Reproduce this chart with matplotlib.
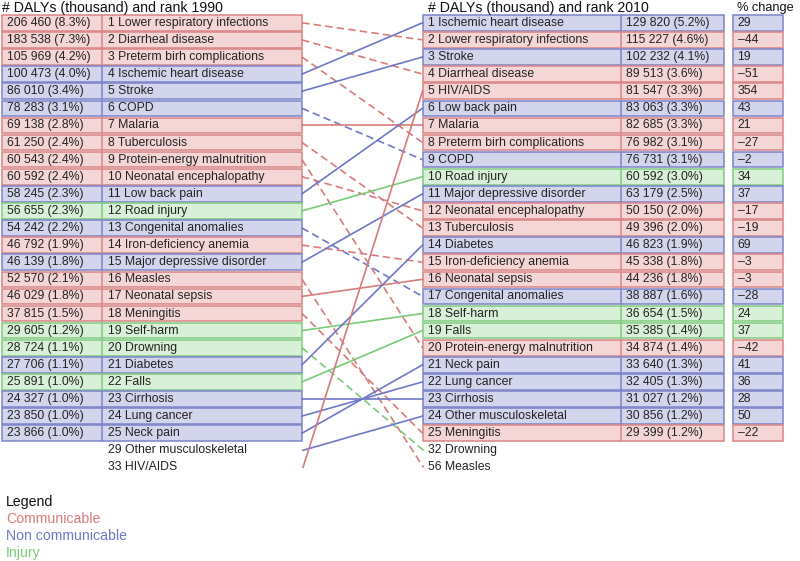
import matplotlib
matplotlib.use("Agg")
import matplotlib.pyplot as plt
from matplotlib.patches import Rectangle

plt.rcParams['font.family'] = ['Liberation Sans', 'DejaVu Sans']

# ---- data: 1990 ----
names_1990 = ["Lower respiratory infections", "Diarrheal disease", "Preterm birh complications",
              "Ischemic heart disease", "Stroke", "COPD", "Malaria", "Tuberculosis",
              "Protein-energy malnutrition", "Neonatal encephalopathy", "Low back pain",
              "Road injury", "Congenital anomalies", "Iron-deficiency anemia",
              "Major depressive disorder", "Measles", "Neonatal sepsis", "Meningitis",
              "Self-harm", "Drowning", "Diabetes", "Falls", "Cirrhosis", "Lung cancer",
              "Neck pain"]
dalys_1990 = ["206 460 (8.3%)", "183 538 (7.3%)", "105 969 (4.2%)", "100 473 (4.0%)",
              "86 010 (3.4%)", "78 283 (3.1%)", "69 138 (2.8%)", "61 250 (2.4%)",
              "60 543 (2.4%)", "60 592 (2.4%)", "58 245 (2.3%)", "56 655 (2.3%)",
              "54 242 (2.2%)", "46 792 (1.9%)", "46 139 (1.8%)", "52 570 (2.1%)",
              "46 029 (1.8%)", "37 815 (1.5%)", "29 605 (1.2%)", "28 724 (1.1%)",
              "27 706 (1.1%)", "25 891 (1.0%)", "24 327 (1.0%)", "23 850 (1.0%)",
              "23 866 (1.0%)"]
extra_1990 = [(29, "Other musculoskeletal"), (33, "HIV/AIDS")]

# ---- data: 2010 ----
names_2010 = ["Ischemic heart disease", "Lower respiratory infections", "Stroke",
              "Diarrheal disease", "HIV/AIDS", "Low back pain", "Malaria",
              "Preterm birh complications", "COPD", "Road injury", "Major depressive disorder",
              "Neonatal encephalopathy", "Tuberculosis", "Diabetes", "Iron-deficiency anemia",
              "Neonatal sepsis", "Congenital anomalies", "Self-harm", "Falls",
              "Protein-energy malnutrition", "Neck pain", "Lung cancer", "Cirrhosis",
              "Other musculoskeletal", "Meningitis"]
dalys_2010 = ["129 820 (5.2%)", "115 227 (4.6%)", "102 232 (4.1%)", "89 513 (3.6%)",
              "81 547 (3.3%)", "83 063 (3.3%)", "82 685 (3.3%)", "76 982 (3.1%)",
              "76 731 (3.1%)", "60 592 (3.0%)", "63 179 (2.5%)", "50 150 (2.0%)",
              "49 396 (2.0%)", "46 823 (1.9%)", "45 338 (1.8%)", "44 236 (1.8%)",
              "38 887 (1.6%)", "36 654 (1.5%)", "35 385 (1.4%)", "34 874 (1.4%)",
              "33 640 (1.3%)", "32 405 (1.3%)", "31 027 (1.2%)", "30 856 (1.2%)",
              "29 399 (1.2%)"]
pct_change = ["29", "–44", "19", "–51", "354", "43", "21", "–27", "–2", "34", "37", "–17",
              "–19", "69", "–3", "–3", "–28", "24", "37", "–42", "41", "36", "28", "50", "–22"]
extra_2010 = [(32, "Drowning"), (56, "Measles")]

# cause group: C = communicable, N = non communicable, I = injury
group = {
    "Lower respiratory infections": "C", "Diarrheal disease": "C", "Preterm birh complications": "C",
    "Ischemic heart disease": "N", "Stroke": "N", "COPD": "N", "Malaria": "C", "Tuberculosis": "C",
    "Protein-energy malnutrition": "C", "Neonatal encephalopathy": "C", "Low back pain": "N",
    "Road injury": "I", "Congenital anomalies": "N", "Iron-deficiency anemia": "C",
    "Major depressive disorder": "N", "Measles": "C", "Neonatal sepsis": "C", "Meningitis": "C",
    "Self-harm": "I", "Drowning": "I", "Diabetes": "N", "Falls": "I", "Cirrhosis": "N",
    "Lung cancer": "N", "Neck pain": "N", "Other musculoskeletal": "N", "HIV/AIDS": "C",
}

fill = {"C": "#f5d6d6", "N": "#d3d5ec", "I": "#d8efd8"}
edge = {"C": "#da8585", "N": "#7c84c9", "I": "#80cb80"}
linec = {"C": "#d77b7b", "N": "#6e78c6", "I": "#78cb78"}
legend_items = [("Communicable", "C"), ("Non communicable", "N"), ("Injury", "I")]

# ---- layout (pixel coordinates) ----
W, H = 800, 561
fig = plt.figure(figsize=(W / 100, H / 100), dpi=100)
ax = fig.add_axes([0, 0, 1, 1])
ax.set_xlim(0, W)
ax.set_ylim(H, 0)
ax.axis("off")

TOP, PITCH, BH = 15.0, 17.1, 15.6
FS, HFS = 8.8, 10.2
TXT = "#222222"
L0, LDIV, L1 = 1.5, 102.0, 302.0
R0, RDIV, R1 = 422.5, 621.0, 724.0
P0, P1 = 732.5, 782.5


def ycen(pos):
    return TOP + PITCH * (pos - 1) + BH / 2


def box(x0, x1, pos, g):
    y = TOP + PITCH * (pos - 1)
    ax.add_patch(Rectangle((x0, y), x1 - x0, BH, facecolor=fill[g], edgecolor=edge[g], lw=1.1))


ax.text(2, 7.5, "# DALYs (thousand) and rank 1990", fontsize=HFS, va="center", ha="left", color="#111111")
ax.text(428, 7.5, "# DALYs (thousand) and rank 2010", fontsize=HFS, va="center", ha="left", color="#111111")
ax.text(737, 7.5, "% change", fontsize=9.2, va="center", ha="left", color="#111111")

# left table
for i, (nm, dv) in enumerate(zip(names_1990, dalys_1990)):
    pos = i + 1
    g = group[nm]
    box(L0, L1, pos, g)
    ax.plot([LDIV, LDIV], [TOP + PITCH * i, TOP + PITCH * i + BH], color=edge[g], lw=1.1)
    ax.text(L0 + 5.5, ycen(pos), dv, fontsize=FS, va="center", ha="left", color=TXT)
    ax.text(LDIV + 6, ycen(pos), f"{pos} {nm}", fontsize=FS, va="center", ha="left", color=TXT)
for k, (rk, nm) in enumerate(extra_1990):
    ax.text(LDIV + 6, ycen(26 + k), f"{rk} {nm}", fontsize=FS, va="center", ha="left", color=TXT)

# right table
for i, (nm, dv, pc) in enumerate(zip(names_2010, dalys_2010, pct_change)):
    pos = i + 1
    g = group[nm]
    box(R0, R1, pos, g)
    ax.plot([RDIV, RDIV], [TOP + PITCH * i, TOP + PITCH * i + BH], color=edge[g], lw=1.1)
    box(P0, P1, pos, g)
    ax.text(R0 + 5.5, ycen(pos), f"{pos} {nm}", fontsize=FS, va="center", ha="left", color=TXT)
    ax.text(RDIV + 5, ycen(pos), dv, fontsize=FS, va="center", ha="left", color=TXT)
    ax.text(P0 + 5, ycen(pos), pc, fontsize=FS, va="center", ha="left", color=TXT)
for k, (rk, nm) in enumerate(extra_2010):
    ax.text(R0 + 5.5, ycen(26 + k), f"{rk} {nm}", fontsize=FS, va="center", ha="left", color=TXT)

# rank -> display position
rank90 = {nm: i + 1 for i, nm in enumerate(names_1990)}
rank90.update({nm: rk for rk, nm in extra_1990})
pos90 = {nm: i + 1 for i, nm in enumerate(names_1990)}
pos90.update({nm: 26 + k for k, (rk, nm) in enumerate(extra_1990)})
rank10 = {nm: i + 1 for i, nm in enumerate(names_2010)}
rank10.update({nm: rk for rk, nm in extra_2010})
pos10 = {nm: i + 1 for i, nm in enumerate(names_2010)}
pos10.update({nm: 26 + k for k, (rk, nm) in enumerate(extra_2010)})

for nm in rank90:
    if nm not in rank10:
        continue
    g = group[nm]
    worse = rank10[nm] > rank90[nm]
    ls = (0, (4.5, 2.5)) if worse else "-"
    x0 = L1 + (1 if pos90[nm] > 25 else 0)
    x1 = R0 + (1 if pos10[nm] > 25 else 0)
    ax.plot([x0, x1], [ycen(pos90[nm]), ycen(pos10[nm])], color=linec[g], lw=1.2, ls=ls)

# legend
ax.text(6, 502, "Legend", fontsize=10.2, va="center", ha="left", color="#111111")
for k, (lab, g) in enumerate(legend_items):
    ax.text(6, 519 + 17 * k, lab, fontsize=10.2, va="center", ha="left", color=linec[g])

fig.savefig("out.png", dpi=100)
